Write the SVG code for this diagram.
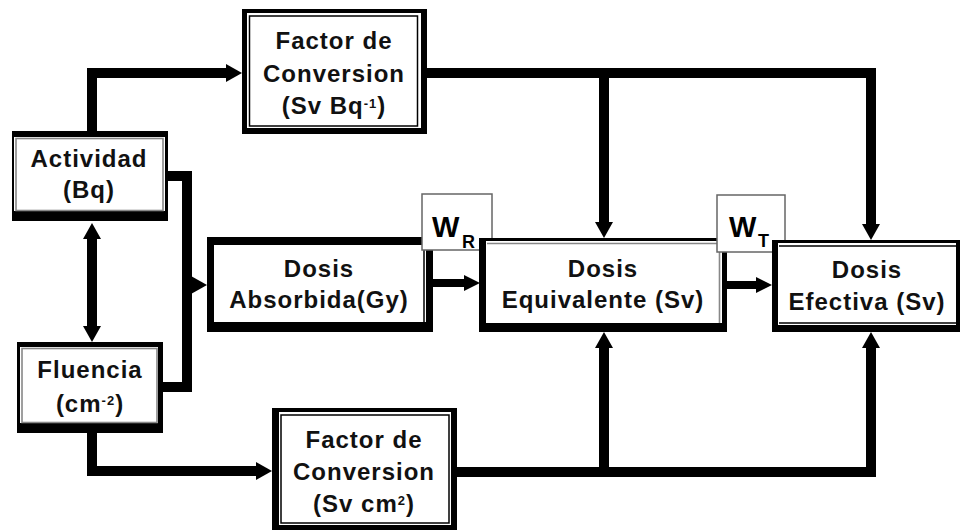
<svg xmlns="http://www.w3.org/2000/svg" width="960" height="530" viewBox="0 0 960 530">
<style>
.bk{fill:#000}
.wh{fill:#fff}
.ln{fill:none;stroke:#000;stroke-width:1.5}
.gl{fill:none;stroke:#888;stroke-width:1.6}
.tx{font-family:"Liberation Sans",Arial,sans-serif;font-weight:bold;font-size:24px;letter-spacing:1px;fill:#111;text-anchor:middle}
.c{fill:none;stroke:#000;stroke-width:10;stroke-linejoin:miter}
.cs{fill:none;stroke:#000;stroke-width:8}
.w{font-family:"Liberation Sans",Arial,sans-serif;font-weight:bold;fill:#000}
.wb{fill:#fff;stroke:#666;stroke-width:1.5}
</style>
<defs>
<marker id="ah" markerUnits="userSpaceOnUse" markerWidth="16" markerHeight="18" viewBox="0 0 16 18" refX="6" refY="9" orient="auto-start-reverse">
<path d="M0,0 L16,9 L0,18 z" fill="#000"/>
</marker>
<marker id="ahs" markerUnits="userSpaceOnUse" markerWidth="16" markerHeight="16" viewBox="0 0 16 16" refX="6" refY="8" orient="auto">
<path d="M0,0 L16,8 L0,16 z" fill="#000"/>
</marker>
</defs>
<rect width="960" height="530" fill="#fff"/>
<g id="connectors">
<path class="c" d="M92,134 V73 H232" marker-end="url(#ah)"/>
<path class="c" d="M425,73 H871 V230" marker-end="url(#ah)"/>
<path class="c" d="M604,73 V228" marker-end="url(#ah)"/>
<path class="c" d="M92,233 V332" marker-start="url(#ah)" marker-end="url(#ah)"/>
<path class="c" d="M163,176 H187 V387 H160"/>
<path class="c" d="M187,285 H197" marker-end="url(#ah)"/>
<path class="c" d="M92,430 V471 H262" marker-end="url(#ah)"/>
<path class="c" d="M452,472 H871 V342" marker-end="url(#ah)"/>
<path class="c" d="M604,472 V342" marker-end="url(#ah)"/>
<path class="cs" d="M430,283 H470" marker-end="url(#ahs)"/>
<path class="cs" d="M724,285 H762" marker-end="url(#ahs)"/>
</g>
<g id="factor_top">
<rect class="bk" x="242" y="9" width="185" height="125"/>
<rect class="wh" x="247" y="13" width="174" height="115"/>
<rect class="ln" x="249.5" y="16" width="168" height="110"/>
<text class="tx" x="334" y="49">Factor de</text>
<text class="tx" x="334" y="82">Conversion</text>
<text class="tx" x="334" y="114">(Sv Bq<tspan font-size="13" dy="-6">-1</tspan><tspan dy="6">)</tspan></text>
</g>
<g id="actividad">
<rect class="bk" x="12" y="131" width="156" height="90"/>
<rect class="wh" x="14" y="137" width="151" height="74"/>
<rect class="gl" x="16" y="138.5" width="147" height="72"/>
<text class="tx" x="89" y="167">Actividad</text>
<text class="tx" x="89" y="198">(Bq)</text>
</g>
<g id="fluencia">
<rect class="bk" x="17" y="342" width="146" height="91"/>
<rect class="wh" x="20" y="347" width="138" height="76"/>
<rect class="gl" x="22" y="348.5" width="135" height="74"/>
<text class="tx" x="90" y="378">Fluencia</text>
<text class="tx" x="90" y="412">(cm<tspan font-size="13" dy="-7">-2</tspan><tspan dy="7">)</tspan></text>
</g>
<g id="factor_bottom">
<rect class="bk" x="272" y="408" width="185" height="127"/>
<rect class="wh" x="279" y="412" width="172" height="113"/>
<rect class="ln" x="281" y="415" width="168" height="108"/>
<text class="tx" x="364" y="448">Factor de</text>
<text class="tx" x="364" y="480">Conversion</text>
<text class="tx" x="364" y="512">(Sv cm<tspan font-size="13" dy="-7">2</tspan><tspan dy="7">)</tspan></text>
</g>
<g id="dosis_absorbida">
<rect class="bk" x="207" y="237" width="226" height="95"/>
<rect class="wh" x="214" y="245" width="212" height="77"/>
<path class="ln" d="M424,245 V322"/>
<text class="tx" x="319" y="277">Dosis</text>
<text class="tx" x="319" y="308">Absorbida(Gy)</text>
</g>
<g id="wr">
<rect class="wb" x="422" y="194" width="70" height="56"/>
<text class="w" x="432" y="237" font-size="29">W</text>
<text class="w" x="462" y="248" font-size="18">R</text>
</g>
<g id="dosis_equivalente">
<rect class="bk" x="479" y="238" width="248" height="94"/>
<rect class="wh" x="486" y="241" width="236" height="82"/>
<path class="gl" d="M487,243.5 H719.5 V323"/>
<text class="tx" x="603" y="277">Dosis</text>
<text class="tx" x="603" y="308">Equivalente (Sv)</text>
</g>
<g id="wt">
<rect class="wb" x="717" y="195" width="68" height="57"/>
<text class="w" x="729" y="237" font-size="29">W</text>
<text class="w" x="758" y="247" font-size="18">T</text>
</g>
<g id="dosis_efectiva">
<rect class="bk" x="772" y="240" width="190" height="92"/>
<rect class="wh" x="778" y="243" width="178" height="82"/>
<path class="ln" d="M779,246 H956 M779,323 H956"/>
<text class="tx" x="867" y="278">Dosis</text>
<text class="tx" x="867" y="310">Efectiva (Sv)</text>
</g>
</svg>
